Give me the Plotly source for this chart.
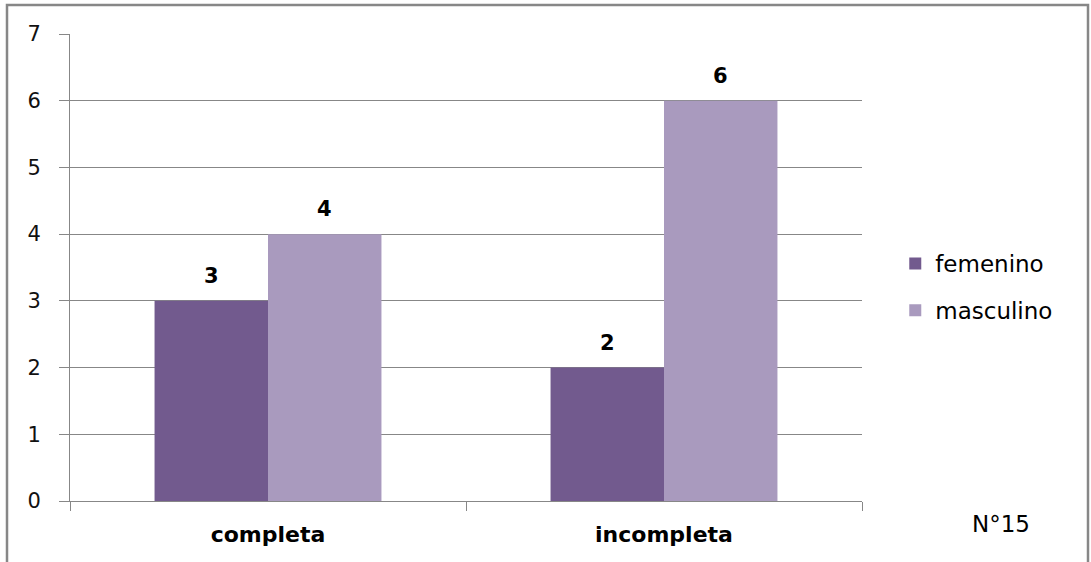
import plotly.graph_objects as go

# Data
categories = ["completa", "incompleta"]
femenino = [3, 2]
masculino = [4, 6]
y_ticks = [0, 1, 2, 3, 4, 5, 6, 7]

COLOR_FEM = "#725A8E"
COLOR_MASC = "#A99ABE"
GRID = "#878787"
FONT = "DejaVu Sans"
BARGAP = 0.427

fig = go.Figure()
fig.add_trace(go.Bar(name="femenino", x=categories, y=femenino,
                     marker=dict(color=COLOR_FEM, line=dict(width=0)),
                     legendgroup="f"))
fig.add_trace(go.Bar(name="masculino", x=categories, y=masculino,
                     marker=dict(color=COLOR_MASC, line=dict(width=0)),
                     legendgroup="m"))

# value labels above each bar, centred on the grouped bar positions
bar_w = (1 - BARGAP) / 2
annotations = []
for series, off in ((femenino, -bar_w / 2), (masculino, bar_w / 2)):
    for i, v in enumerate(series):
        annotations.append(dict(
            x=i + off, y=v, xref="x", yref="y", text=f"<b>{v}</b>",
            showarrow=False, yanchor="middle", yshift=25,
            font=dict(family=FONT, size=21, color="#000000")))

annotations.append(dict(
    x=(1001 - 70) / 792, y=(501 - 524) / 467, xref="paper", yref="paper",
    text="N°15", showarrow=False, xanchor="center", yanchor="middle",
    font=dict(family=FONT, size=23, color="#000000")))

# outer frame of the chart
shapes = [dict(type="rect", xref="paper", yref="paper",
               x0=(7 - 70) / 792, x1=(1088 - 70) / 792,
               y0=(501 - 580) / 467, y1=(501 - 5) / 467,
               line=dict(color=GRID, width=2.5), fillcolor="rgba(0,0,0,0)",
               layer="below")]

fig.update_layout(
    width=1091, height=562,
    margin=dict(l=70, r=229, t=34, b=61),
    paper_bgcolor="white", plot_bgcolor="white",
    barmode="group", bargap=BARGAP, bargroupgap=0,
    font=dict(family=FONT, color="#000000"),
    showlegend=True,
    legend=dict(x=1.042, y=(501 - 287) / 467, xanchor="left", yanchor="middle",
                font=dict(family=FONT, size=23, color="#000000"),
                traceorder="grouped", tracegroupgap=14,
                bgcolor="rgba(0,0,0,0)"),
    annotations=annotations,
    shapes=shapes,
    xaxis=dict(
        type="category", showgrid=False, showline=True, linecolor=GRID,
        linewidth=1, ticks="outside", tickson="boundaries", ticklen=9,
        tickcolor=GRID, tickwidth=1,
        tickfont=dict(family=FONT, size=22, color="#000000"),
        tickprefix="<b>", ticksuffix="</b>", ticklabelstandoff=14,
    ),
    yaxis=dict(
        range=[0, 7], tickvals=y_ticks, showgrid=True, gridcolor=GRID,
        gridwidth=1, showline=True, linecolor=GRID, linewidth=1,
        ticks="outside", ticklen=10, tickcolor=GRID, tickwidth=1,
        zeroline=False,
        tickfont=dict(family=FONT, size=21, color="#111111"),
        ticklabelstandoff=14,
    ),
)

fig.write_html("out.html")
